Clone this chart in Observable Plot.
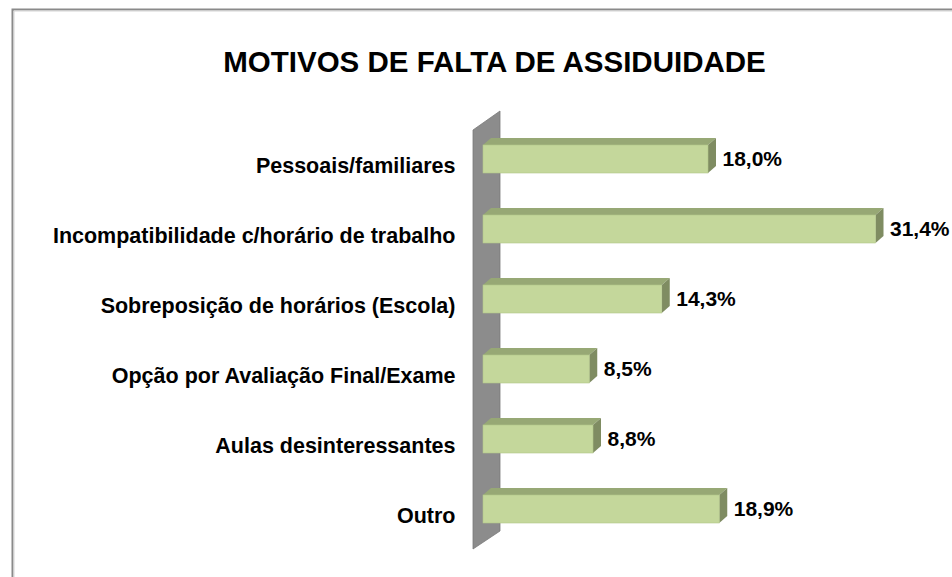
<!DOCTYPE html>
<html>
<head>
<meta charset="utf-8">
<script src="https://cdn.jsdelivr.net/npm/d3@7"></script>
<script src="https://cdn.jsdelivr.net/npm/@observablehq/plot@0.6"></script>
<style>
  html, body { margin: 0; padding: 0; background: #ffffff; }
  #chart { width: 952px; height: 577px; overflow: hidden; }
</style>
</head>
<body>
<div id="chart"></div>
<script>
const title = "MOTIVOS DE FALTA DE ASSIDUIDADE";
const categories = [
  "Pessoais/familiares",
  "Incompatibilidade c/horário de trabalho",
  "Sobreposição de horários (Escola)",
  "Opção por Avaliação Final/Exame",
  "Aulas desinteressantes",
  "Outro"
];
const values = [18.0, 31.4, 14.3, 8.5, 8.8, 18.9];
const valueLabels = ["18,0%", "31,4%", "14,3%", "8,5%", "8,8%", "18,9%"];

const data = categories.map((c, i) => ({cat: c, value: values[i], label: valueLabels[i]}));

const FONT = "'Liberation Sans', Arial, sans-serif";
const svgNS = "http://www.w3.org/2000/svg";
function el(tag, attrs) {
  const e = document.createElementNS(svgNS, tag);
  for (const k in attrs) e.setAttribute(k, attrs[k]);
  return e;
}

// Border of chart area (top and left edges visible)
function borderMark(index, scales, values, dims) {
  const g = el("g", {});
  g.appendChild(el("path", {d: `M12.5,${dims.height} V9.5 H${dims.width}`, fill: "none", stroke: "#8a8a8a", "stroke-width": 2}));
  g.appendChild(el("path", {d: `M14,${dims.height} V11 H${dims.width}`, fill: "none", stroke: "#d4d4d4", "stroke-width": 1}));
  return g;
}

// 3D side wall behind the bars
function wallMark(index, scales, values, dims) {
  const x0 = scales.x(0);
  const top = dims.marginTop, bottom = dims.height - dims.marginBottom;
  const pts = [
    [x0 - 10, top + 27],
    [x0 + 17, top + 8],
    [x0 + 17, bottom - 34],
    [x0 - 10, bottom - 16]
  ];
  return el("polygon", {points: pts.map(p => p.join(",")).join(" "), fill: "#8c8c8c", stroke: "#7a7a7a", "stroke-width": 0.8});
}

// 3D faces (top and right side) of each bar
function facesMark(index, scales, vals, dims) {
  const x = scales.x, y = scales.y;
  const bw = y.bandwidth ? y.bandwidth() : 28;
  const g = el("g", {});
  const dx = 8, dy = -7;
  for (const d of data) {
    const x0 = x(0), x1 = x(d.value), t = y(d.cat), b = t + bw;
    g.appendChild(el("polygon", {
      points: `${x0},${t} ${x0 + dx},${t + dy} ${x1 + dx},${t + dy} ${x1},${t}`,
      fill: "#97a875"
    }));
    g.appendChild(el("polygon", {
      points: `${x1},${t} ${x1 + dx},${t + dy} ${x1 + dx},${b + dy} ${x1},${b}`,
      fill: "#7f8c62"
    }));
  }
  return g;
}

const chart = Plot.plot({
  width: 952,
  height: 577,
  marginLeft: 483,
  marginRight: 31.5,
  marginTop: 103,
  marginBottom: 12,
  style: {fontFamily: FONT, background: "#ffffff", color: "#000000"},
  x: {domain: [0, 35], axis: null},
  y: {domain: categories, padding: 0.6, axis: null},
  marks: [
    borderMark,
    wallMark,
    facesMark,
    Plot.barX(data, {x: "value", y: "cat", fill: "#c4d79b", stroke: "#b3c78a", strokeWidth: 0.6}),
    Plot.text(data, {x: () => 0, y: "cat", text: "cat", textAnchor: "end", dx: -28, dy: 7,
      fontSize: 21.5, fontWeight: "bold", fill: "#000000"}),
    Plot.text(data, {x: "value", y: "cat", text: "label", textAnchor: "start", dx: 14,
      fontSize: 21, fontWeight: "bold", fill: "#000000"}),
    Plot.text([title], {text: d => d, frameAnchor: "top-left", dx: 11, dy: -52.5, textAnchor: "middle",
      fontSize: 29.5, fontWeight: "bold", fill: "#000000"})
  ]
});

document.getElementById("chart").appendChild(chart);
</script>
</body>
</html>
